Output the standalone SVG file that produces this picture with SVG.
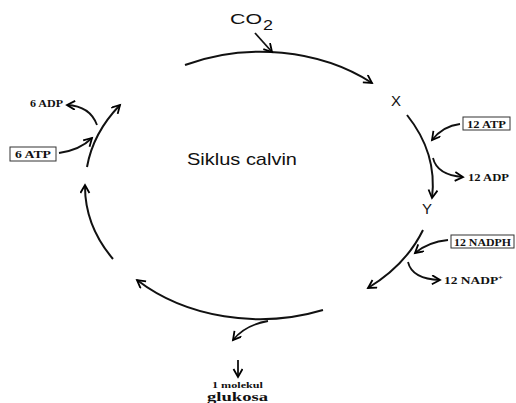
<svg xmlns="http://www.w3.org/2000/svg" width="516" height="403" viewBox="0 0 516 403">
<defs>
<marker id="ah" markerWidth="12" markerHeight="12" refX="9" refY="5" orient="auto" markerUnits="userSpaceOnUse">
<path d="M1,0.5 L9,5 L1,9.5" fill="none" stroke="#000" stroke-width="1.8"/>
</marker>
<style>
.c{fill:none;stroke:#111;stroke-width:2;marker-end:url(#ah)}
.s{fill:none;stroke:#111;stroke-width:1.8;marker-end:url(#ah)}
.sans{font-family:"Liberation Sans",Arial,sans-serif;fill:#111}
.lb{font-family:"Liberation Serif","Times New Roman",serif;font-weight:bold;fill:#111}
.box{fill:#fff;stroke:#333;stroke-width:1}
</style>
</defs>
<rect width="516" height="403" fill="#fff"/>
<g id="connectors">
<path class="c" d="M185,65 A174,134 0 0 1 372,83"/>
<path class="c" d="M407,115 A174,134 0 0 1 432,198"/>
<path class="c" d="M423,230 A174,134 0 0 1 368,288"/>
<path class="c" d="M323,310 A174,134 0 0 1 137,280"/>
<path class="c" d="M113,259 A174,134 0 0 1 85,185"/>
<path class="c" d="M87,167 A174,134 0 0 1 120,105"/>
<path class="s" d="M255,33 L272,52"/>
<path class="s" d="M97,125 Q90,106 67,105"/>
<path class="s" d="M59,153 Q80,150 92,138"/>
<path class="s" d="M460,124 Q443,126 432,140"/>
<path class="s" d="M433,158 Q437,175 463,177"/>
<path class="s" d="M448,240 Q428,242 415,253"/>
<path class="s" d="M408,262 Q412,279 440,280"/>
<path class="s" d="M268,321 Q245,325 233,340"/>
<path class="s" d="M238,360 L238,377"/>
</g>
<g id="co2"><text class="sans" x="230" y="24" font-size="14" textLength="32" lengthAdjust="spacingAndGlyphs">CO</text><text class="sans" x="263" y="30" font-size="14" textLength="10" lengthAdjust="spacingAndGlyphs">2</text></g>
<g id="x"><text class="sans" x="396" y="106" font-size="15" text-anchor="middle">X</text></g>
<g id="y"><text class="sans" x="427" y="214" font-size="15" text-anchor="middle">Y</text></g>
<g id="title"><text class="sans" x="187" y="165" font-size="17" textLength="110" lengthAdjust="spacingAndGlyphs">Siklus calvin</text></g>
<g id="adp6"><text class="lb" x="30" y="107" font-size="11" textLength="33" lengthAdjust="spacingAndGlyphs">6 ADP</text></g>
<g id="atp6"><rect class="box" x="10" y="147" width="46" height="14"/><text class="lb" x="15" y="158" font-size="11" textLength="36" lengthAdjust="spacingAndGlyphs">6 ATP</text></g>
<g id="atp12"><rect class="box" x="463" y="117" width="47" height="13"/><text class="lb" x="467" y="127.5" font-size="11" textLength="39" lengthAdjust="spacingAndGlyphs">12 ATP</text></g>
<g id="adp12"><text class="lb" x="468" y="181" font-size="11" textLength="41" lengthAdjust="spacingAndGlyphs">12 ADP</text></g>
<g id="nadph12"><rect class="box" x="451" y="235" width="63" height="13"/><text class="lb" x="454" y="245.5" font-size="11" textLength="57" lengthAdjust="spacingAndGlyphs">12 NADPH</text></g>
<g id="nadp12"><text class="lb" x="444" y="284" font-size="11" textLength="59" lengthAdjust="spacingAndGlyphs">12 NADP<tspan font-size="7" dy="-4">+</tspan></text></g>
<g id="glukosa"><text class="lb" x="212" y="388" font-size="9" textLength="51" lengthAdjust="spacingAndGlyphs">1 molekul</text><text class="lb" x="207" y="401" font-size="13" textLength="61" lengthAdjust="spacingAndGlyphs">glukosa</text></g>
</svg>
